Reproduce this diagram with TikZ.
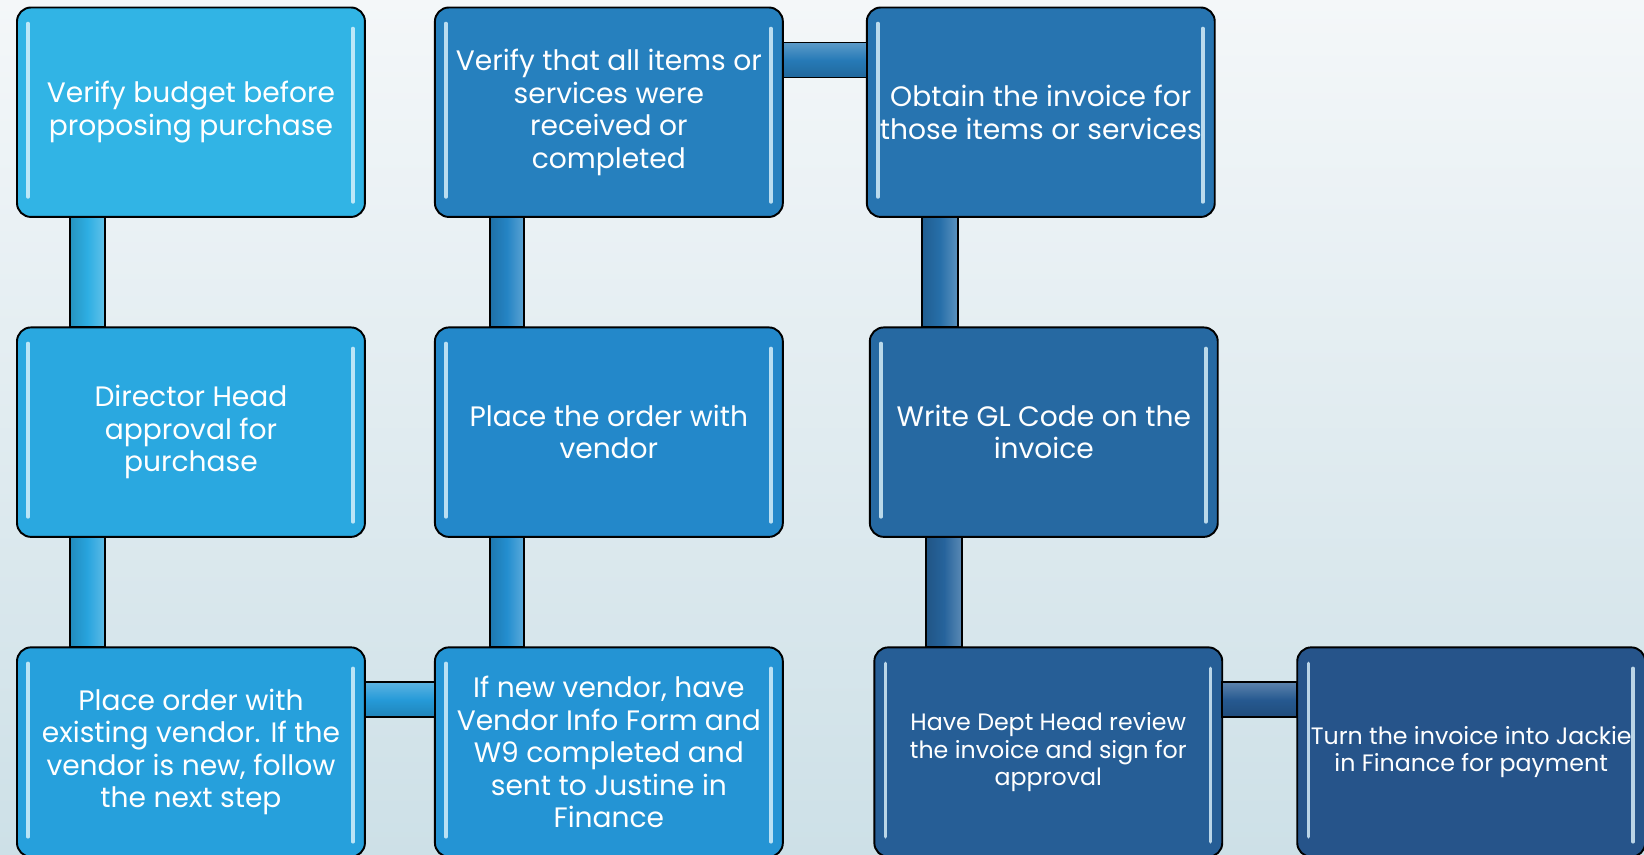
\documentclass[tikz,border=0pt]{standalone}
\usepackage{fontspec}
\setmainfont{Poppins}
\usepackage{xcolor}
\usepackage{tikz}
\usetikzlibrary{positioning,backgrounds}

\definecolor{bgtop}{HTML}{F4F7F9}
\definecolor{bgbot}{HTML}{CDE0E7}
\definecolor{c1}{HTML}{31B4E5}
\definecolor{c2}{HTML}{2AA8E0}
\definecolor{c3}{HTML}{26A0DC}
\definecolor{c4}{HTML}{2494D4}
\definecolor{c5}{HTML}{2388CA}
\definecolor{c6}{HTML}{2680BE}
\definecolor{c7}{HTML}{2774B0}
\definecolor{c8}{HTML}{2669A2}
\definecolor{c9}{HTML}{265E96}
\definecolor{c10}{HTML}{26548A}

\begin{document}
\begin{tikzpicture}[
    x=0.02cm, y=0.02cm,
    shine/.style={line width=0.07cm, draw=cyan!12!white, draw opacity=0.8, line cap=round},
    box/.style={draw, line width=1.1pt, rounded corners=0.28cm, minimum width=6.96cm, minimum height=4.19cm,
        inner sep=0pt, outer sep=0pt, align=center, text=white, font=\fontsize{16}{18.5}\selectfont,
        path picture={
            \draw[shine] ([xshift=0.22cm,yshift=-0.32cm]path picture bounding box.north west) -- ([xshift=0.22cm,yshift=0.4cm]path picture bounding box.south west);
            \draw[shine] ([xshift=-0.24cm,yshift=-0.42cm]path picture bounding box.north east) -- ([xshift=-0.24cm,yshift=0.3cm]path picture bounding box.south east);
        }},
    small/.style={font=\fontsize{13.5}{15.5}\selectfont},
    vbar/.style={draw, line width=1.1pt, left color=#1!85!black, right color=#1!75!white, middle color=#1},
    hbar/.style={draw, line width=1.1pt, top color=#1!75!white, bottom color=#1!85!black, middle color=#1},
    node distance=2.21cm
]
\useasboundingbox (0,0) rectangle (1644,855);
\shade[top color=bgtop, bottom color=bgbot] (0,0) rectangle (1644,855);
\clip (0,0) rectangle (1644,855);

\node[box, fill=c1, anchor=north west] (budget) at (17,847.5) {Verify budget before\\proposing purchase};
\node[box, fill=c2, below=of budget] (director) {Director Head\\approval for\\purchase};
\node[box, fill=c3, below=of director] (existing) {Place order with\\existing vendor. If the\\vendor is new, follow\\the next step};
\node[box, fill=c4, right=1.4cm of existing] (newvendor) {If new vendor, have\\Vendor Info Form and\\W9 completed and\\sent to Justine in\\Finance};
\node[box, fill=c5, above=of newvendor] (order) {Place the order with\\vendor};
\node[box, fill=c6, above=of order] (received) {Verify that all items or\\services were\\received or\\completed};
\node[box, fill=c7, right=1.68cm of received] (invoice) {Obtain the invoice for\\those items or services};
\node[box, fill=c8, below=of invoice, xshift=0.06cm] (glcode) {Write GL Code on the\\invoice};
\node[box, small, fill=c9, below=of glcode, xshift=0.09cm] (review) {Have Dept Head review\\the invoice and sign for\\approval};
\node[box, small, fill=c10, right=1.5cm of review] (payment) {Turn the invoice into Jackie\\in Finance for payment};

\draw[vbar=c1!50!c2] ([xshift=1.06cm]budget.south west) rectangle ([xshift=1.76cm]director.north west);
\draw[vbar=c2!50!c3] ([xshift=1.06cm]director.south west) rectangle ([xshift=1.76cm]existing.north west);
\draw[hbar=c3!50!c4] ([yshift=-0.7cm]existing.north east) rectangle ([yshift=-1.4cm]newvendor.north west);
\draw[vbar=c4!50!c5] ([xshift=1.1cm]newvendor.north west) rectangle ([xshift=1.78cm]order.south west);
\draw[vbar=c5!50!c6] ([xshift=1.1cm]order.north west) rectangle ([xshift=1.78cm]received.south west);
\draw[hbar=c6!50!c7] ([yshift=-0.7cm]received.north east) rectangle ([yshift=-1.4cm]invoice.north west);
\draw[vbar=c7!50!c8] ([xshift=1.1cm]invoice.south west) rectangle ([xshift=1.76cm]glcode.north west);
\draw[vbar=c8!50!c9] ([xshift=1.12cm]glcode.south west) rectangle ([xshift=1.76cm]review.north west);
\draw[hbar=c9!50!c10] ([yshift=-0.7cm]review.north east) rectangle ([yshift=-1.4cm]payment.north west);
\end{tikzpicture}
\end{document}
